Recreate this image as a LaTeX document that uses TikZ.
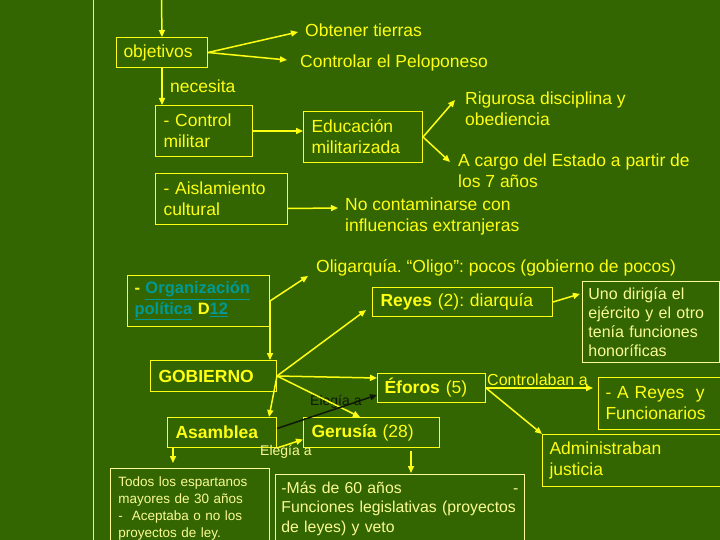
\documentclass[tikz,border=0pt]{standalone}
\usepackage{fontspec}
\setmainfont{Liberation Sans}
\usetikzlibrary{arrows.meta}
\definecolor{bg}{RGB}{51,102,0}
\definecolor{yl}{RGB}{255,255,20}
\definecolor{ylt}{RGB}{250,250,150}
\definecolor{lnk}{RGB}{0,153,153}
\definecolor{dk}{RGB}{15,25,10}
\newcommand\mf{\fontsize{17.5}{21}\selectfont}
\newcommand\sfn{\fontsize{16}{19}\selectfont}
\newcommand\tfn{\fontsize{13.5}{17}\selectfont}
\newcommand\lfn{\fontsize{14}{16}\selectfont}
\frenchspacing
\begin{document}
\begin{tikzpicture}[x=1pt,y=-1pt,
 box/.style={draw=yl, line width=1pt, text=yl, font=\mf, align=left, inner xsep=7pt, inner ysep=2pt, anchor=north west},
 lbox/.style={draw=ylt, line width=0.8pt, text=ylt, font=\sfn, align=left, inner xsep=7pt, anchor=north west},
 lbl/.style={text=yl, font=\mf, align=left, inner sep=0pt, anchor=west},
 arr/.style={draw=yl, line width=1.5pt, -{Triangle[length=7pt,width=6pt]}},
 ]
\fill[bg] (0,0) rectangle (720,540);
\useasboundingbox (0,0) rectangle (720,540);

% boxes
\node[box, text width=77pt, minimum height=30pt] (obj) at (116,37) {objetivos};
\node[box, inner xsep=8pt, text width=81pt, minimum height=51pt] (ctl) at (155,105) {- Control\\militar};
\node[box, inner xsep=8pt, text width=103pt, minimum height=51pt] (edu) at (303,111) {Educación\\militarizada};
\node[box, inner xsep=8pt, text width=116pt, minimum height=51pt] (ais) at (155,173) {- Aislamiento\\cultural};
\node[box, text width=128pt, minimum height=51pt, font=\fontsize{16.5}{21}\selectfont\bfseries] (org) at (127,275) {- \textcolor{lnk}{\underline{Organización}}\\\textcolor{lnk}{\underline{política}} D\textcolor{lnk}{\underline{12}}};
\node[box, inner xsep=8pt, text width=164pt, minimum height=29pt] (rey) at (372,287) {\textbf{Reyes} (2): diarquía};
\node[lbox, inner xsep=6pt, text width=125pt, minimum height=81pt] (uno) at (582,281) {Uno dirigía el\\ejército y el otro\\tenía funciones\\honoríficas};
\node[box, inner xsep=8pt, text width=110pt, minimum height=31pt, font=\mf\bfseries] (gob) at (150,360) {GOBIERNO};
\node[box, text width=94pt, minimum height=29pt] (efo) at (377,373) {\textbf{Éforos} (5)};
\node[box, text width=120pt, minimum height=52pt] (are) at (598,377) {- A Reyes\ \ y\\Funcionarios};
\node[box, text width=170pt, minimum height=52pt] (adm) at (542,434) {Administraban\\justicia};
\node[box, inner xsep=8pt, text width=93pt, minimum height=30pt, font=\mf\bfseries] (asa) at (167,417) {Asamblea};
\node[box, inner xsep=8pt, text width=120pt, minimum height=30pt] (ger) at (303,417) {\textbf{Gerusía} (28)};
\node[lbox, inner xsep=8pt, inner ysep=8pt, text width=143pt, font=\tfn] (tod) at (110,468) {Todos los espartanos\\mayores de 30 años\\-\ \ Aceptaba o no los\\\mbox{proyectos de ley.}};
\node[lbox, inner xsep=6pt, inner ysep=7pt, text width=237pt, font=\fontsize{15.8}{19.5}\selectfont] (mas) at (275,474) {\makebox[237pt][s]{-Más de 60 años\hfill-}\\\mbox{Funciones legislativas (proyectos}\\\mbox{de leyes) y veto}};

% free labels
\node[lbl] (obt) at (305,30) {Obtener tierras};
\node[lbl] (cpe) at (300,63) {Controlar el Peloponeso};
\node[lbl] (nec) at (170,86) {necesita};
\node[lbl] (rig) at (465,109) {Rigurosa disciplina y\\obediencia};
\node[lbl] (acg) at (458,171) {A cargo del Estado a partir de\\los 7 años};
\node[lbl] (noc) at (345,216) {No contaminarse con\\influencias extranjeras};
\node[lbl] (oli) at (316,268) {Oligarquía. “Oligo”: pocos (gobierno de pocos)};
\node[lbl, font=\sfn] (ctr) at (487,380) {Controlaban a};
\node[lbl, font=\lfn, text=dk] (el1) at (310,402) {Elegía a};
\node[lbl, font=\lfn, text=ylt] (el2) at (260,452) {Elegía a};

% connectors
\coordinate (lt) at (93,0);
\coordinate (lb) at (93,540);
\draw[yl, line width=1pt] (lt) -- (lb);
\coordinate (top) at (161.5,0);
\draw[arr] (top) -- (obj.north);
\draw[arr] (obj.east) -- ([xshift=-7pt,yshift=-2pt]obt.west);
\draw[arr] (obj.east) -- ([xshift=-13pt,yshift=3pt]cpe.west);
\draw[arr] (obj.south) -- (obj.south |- ctl.north);
\draw[arr] (ctl.east) -- (ctl.east -| edu.west);
\draw[arr] (edu.east) -- ([xshift=-10pt,yshift=9pt]rig.west);
\draw[arr] (edu.east) -- ([xshift=-8pt,yshift=9pt]acg.west);
\draw[arr] ([yshift=-9.5pt]ais.east) -- ([xshift=-7pt,yshift=8pt]noc.west);
\draw[arr] (org.east) -- ([xshift=-8pt,yshift=-8pt]oli.west);
\draw[arr] (org.east) -- (org.east |- gob.north);
\draw[arr] (gob.east) -- ([xshift=-6pt,yshift=7pt]rey.south west);
\draw[arr] (gob.east) -- ([yshift=10pt]efo.west);
\draw[arr] (gob.east) -- ([xshift=57pt]ger.north west);
\draw[arr] (gob.east) -- ([xshift=-8pt]asa.north east);
\draw[arr, draw=dk] ([yshift=4pt]asa.east) -- ([yshift=-7pt]efo.west);
\draw[arr] (asa.south east) -- ([yshift=-7pt]ger.west);
\coordinate (asaS) at ([xshift=6pt]asa.south west);
\draw[arr, shorten >=5pt] (asaS) -- (asaS |- tod.north);
\coordinate (gerS) at ([xshift=108pt,yshift=-3pt]ger.south west);
\draw[arr, shorten >=1pt] (gerS) -- (gerS |- mas.north);
\draw[arr, shorten >=5pt] (efo.east) -- (efo.east -| are.west);
\draw[arr] (efo.east) -- (adm.north west);
\draw[arr] (rey.east) -- ([xshift=-2pt,yshift=28pt]uno.west);
\end{tikzpicture}
\end{document}
